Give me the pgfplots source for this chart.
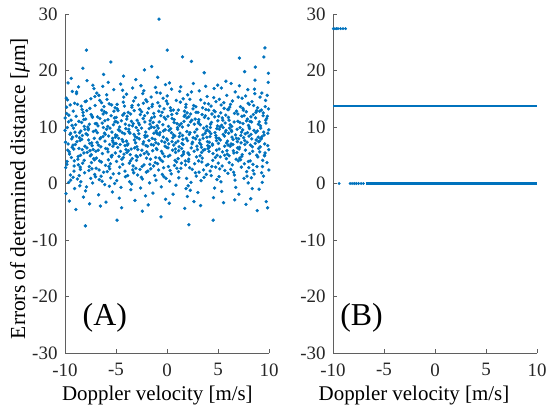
\documentclass[border=0pt]{standalone}
\usepackage{fontspec}
\setmainfont{Liberation Serif}
\usepackage{pgfplots}
\pgfplotsset{compat=1.18}

\definecolor{mlblue}{RGB}{0,114,189}
\definecolor{axgray}{RGB}{95,95,95}

\pgfplotsset{
  panel/.style={
    width=204bp, height=339bp, scale only axis,
    xmin=-10, xmax=10, ymin=-30, ymax=30,
    axis x line*=bottom, axis y line*=left,
    axis line style={-, axgray, line width=0.6bp},
    tick style={axgray, line width=0.6bp},
    tick align=inside, major tick length=4bp,
    xtick={-10,-5,...,10}, ytick={-30,-20,...,30},
    /pgf/number format/assume math mode=true,
    ticklabel style={font=\fontsize{19}{20}\selectfont, text=black!85},
    xticklabel style={yshift=-7bp},
    yticklabel style={xshift=-4bp},
    xlabel={Doppler velocity [m/s]},
    clip=false,
  },
  dots/.style={mlblue, only marks, mark=*, mark size=1.5bp,
    mark options={draw=none, fill=mlblue}},
}

\begin{document}
\begin{tikzpicture}

% (A) scattered errors
\begin{axis}[panel, at={(65bp,59bp)}, anchor=south west,
  xlabel style={font=\fontsize{21}{21}\selectfont, anchor=base,
    at={(axis description cs:0.453,-0.139)}},
  ylabel={Errors of determined distance [\textit{μ}m]},
  ylabel style={font=\fontsize{21.5}{21.5}\selectfont, anchor=base,
    at={(axis description cs:-0.196,0.485)}},
]
\addplot[dots] coordinates {
(-9.95,7.3)(-9.62,12.1)(-9.81,3.4)(-9.17,9.8)(-9.44,0.6)(-9.05,14.2)(-9.73,5.9)(-9.28,16.3)(-9.90,-1.8)(-9.51,8.7)(-9.12,2.2)(-9.66,10.9)(-9.37,4.6)(-9.98,11.6)(-9.22,6.8)(-9.58,-3.1)(-9.85,13.5)(-9.02,9.1)(-9.47,1.5)(-9.70,17.8)(-9.33,7.9)(-9.09,4.0)(-9.77,9.9)(-9.19,12.8)(-9.55,5.2)(-9.93,2.8)(-9.41,11.2)(-9.64,0.2)(-9.26,8.2)(-9.88,15.1)(-9.14,6.1)(-9.49,13.9)(-9.80,3.9)(-9.31,10.3)(-9.06,-0.9)(-9.69,7.0)(-9.99,9.4)(-9.39,18.6)(-9.58,5.6)(-9.21,1.1)(-9.84,12.4)(-9.45,8.9)(-9.11,3.1)(-9.75,14.8)(-9.30,6.4)
(-8.96,10.4)(-8.71,4.8)(-8.33,13.1)(-8.52,7.6)(-8.08,1.9)(-8.87,15.9)(-8.44,9.3)(-8.19,-2.4)(-8.63,6.2)(-8.91,11.9)(-8.27,3.6)(-8.58,8.1)(-8.02,14.5)(-8.79,0.8)(-8.38,10.8)(-8.14,5.4)(-8.67,17.1)(-8.49,2.5)(-8.83,7.4)(-8.23,12.6)(-8.55,-0.4)(-8.05,9.6)(-8.74,4.3)(-8.41,13.7)(-8.99,6.9)(-8.16,11.3)(-8.61,1.4)(-8.30,8.5)(-8.86,16.2)(-8.47,5.0)(-8.11,10.1)(-8.69,3.3)(-8.36,7.8)(-8.93,-4.6)(-8.21,12.0)(-8.57,9.0)(-8.04,6.6)(-8.77,14.0)(-8.45,0.3)(-8.25,20.4)(-8.64,11.0)(-8.12,4.1)(-8.89,8.4)(-8.51,2.9)(-8.31,6.0)
(-7.94,8.8)(-7.62,3.0)(-7.31,11.7)(-7.85,6.3)(-7.07,15.4)(-7.48,0.9)(-7.71,9.7)(-7.19,4.4)(-7.56,13.3)(-7.99,-1.3)(-7.38,7.2)(-7.03,10.6)(-7.66,2.3)(-7.27,17.4)(-7.82,5.5)(-7.44,12.2)(-7.13,8.0)(-7.59,-3.6)(-7.91,14.6)(-7.34,6.7)(-7.09,1.6)(-7.75,10.0)(-7.52,4.9)(-7.22,9.2)(-7.87,12.9)(-7.41,3.7)(-7.16,16.8)(-7.69,7.7)(-7.29,0.1)(-7.97,11.4)(-7.55,5.8)(-7.05,13.8)(-7.79,8.6)(-7.36,2.6)(-7.61,10.5)(-7.24,6.0)(-7.89,-0.6)(-7.46,15.0)(-7.11,4.2)(-7.73,9.5)(-7.33,11.9)(-7.57,7.1)(-7.01,1.2)(-7.84,18.2)(-7.42,5.1)
(-6.97,5.7)(-6.58,11.5)(-6.21,2.0)(-6.83,9.0)(-6.42,14.3)(-6.07,7.5)(-6.71,-2.0)(-6.35,10.7)(-6.92,4.5)(-6.15,12.7)(-6.64,0.7)(-6.28,8.3)(-6.88,16.0)(-6.49,6.5)(-6.03,3.2)(-6.77,10.2)(-6.39,13.0)(-6.11,-0.2)(-6.56,7.9)(-6.95,2.7)(-6.24,9.9)(-6.68,15.6)(-6.33,5.3)(-6.81,11.8)(-6.05,8.7)(-6.46,1.3)(-6.73,6.8)(-6.18,13.6)(-6.61,4.0)(-6.99,9.4)(-6.30,17.2)(-6.53,-4.0)(-6.09,11.1)(-6.86,7.3)(-6.44,3.8)(-6.26,12.3)(-6.75,5.9)(-6.13,8.9)(-6.59,14.7)(-6.37,0.4)(-6.90,10.6)(-6.02,6.2)(-6.66,2.4)(-6.22,19.3)(-6.50,8.1)
(-5.96,12.5)(-5.63,6.9)(-5.27,1.7)(-5.81,10.1)(-5.44,4.7)(-5.09,13.4)(-5.72,8.4)(-5.36,-1.5)(-5.91,15.7)(-5.18,7.0)(-5.55,3.5)(-5.02,11.0)(-5.78,5.6)(-5.40,9.1)(-5.13,0.0)(-5.67,14.1)(-5.31,6.6)(-5.86,2.1)(-5.48,12.0)(-5.06,8.2)(-5.74,4.2)(-5.22,16.6)(-5.59,9.8)(-5.98,-3.3)(-5.34,7.6)(-5.15,11.6)(-5.69,3.0)(-5.42,13.9)(-5.83,6.1)(-5.25,10.4)(-5.51,1.0)(-5.04,8.6)(-5.76,17.9)(-5.38,5.0)(-5.93,9.6)(-5.20,12.8)(-5.61,2.6)(-5.29,7.3)(-5.88,14.9)(-5.46,4.9)(-5.11,10.9)(-5.65,-0.5)(-5.33,8.0)(-5.79,11.3)(-5.07,5.4)
(-4.95,3.9)(-4.61,9.3)(-4.28,14.4)(-4.83,6.4)(-4.47,11.1)(-4.12,2.2)(-4.74,8.0)(-4.36,16.5)(-4.93,0.5)(-4.19,12.4)(-4.56,5.7)(-4.04,9.7)(-4.68,-2.6)(-4.31,7.4)(-4.87,13.2)(-4.43,4.3)(-4.09,10.5)(-4.71,1.8)(-4.24,15.3)(-4.59,6.9)(-4.97,11.7)(-4.34,3.4)(-4.15,8.8)(-4.80,12.9)(-4.51,-0.7)(-4.02,6.0)(-4.65,10.0)(-4.27,4.6)(-4.89,14.0)(-4.40,7.8)(-4.07,1.2)(-4.76,9.5)(-4.54,17.6)(-4.21,5.2)(-4.91,8.5)(-4.33,12.1)(-4.63,2.9)(-4.11,6.7)(-4.85,10.8)(-4.45,-4.3)(-4.17,13.7)(-4.70,4.8)(-4.38,9.0)(-4.99,7.1)(-4.26,19.0)
(-3.94,11.4)(-3.60,5.1)(-3.23,8.7)(-3.86,1.4)(-3.45,13.5)(-3.08,7.2)(-3.71,10.3)(-3.33,3.1)(-3.97,15.8)(-3.17,6.3)(-3.54,-1.1)(-3.02,9.9)(-3.80,12.6)(-3.40,4.4)(-3.12,8.3)(-3.66,0.3)(-3.28,14.6)(-3.89,6.8)(-3.49,11.0)(-3.05,2.7)(-3.75,9.2)(-3.37,16.9)(-3.93,5.5)(-3.20,7.7)(-3.57,12.3)(-3.14,-3.0)(-3.69,3.6)(-3.31,10.6)(-3.83,7.0)(-3.43,13.8)(-3.03,4.9)(-3.63,8.9)(-3.26,1.9)(-3.91,11.9)(-3.52,6.1)(-3.10,15.2)(-3.73,9.6)(-3.35,2.4)(-3.98,7.5)(-3.47,-0.1)(-3.22,12.9)(-3.78,5.8)(-3.39,10.2)(-3.06,18.4)(-3.58,4.0)
(-2.96,6.5)(-2.62,12.2)(-2.25,3.3)(-2.84,9.4)(-2.41,0.8)(-2.07,14.8)(-2.73,7.9)(-2.33,11.5)(-2.91,4.7)(-2.16,8.5)(-2.55,17.3)(-2.03,2.0)(-2.78,10.7)(-2.46,5.9)(-2.11,-2.2)(-2.67,13.1)(-2.29,7.4)(-2.88,1.5)(-2.50,9.8)(-2.19,12.0)(-2.99,4.1)(-2.38,15.9)(-2.05,6.7)(-2.70,10.4)(-2.44,3.0)(-2.14,8.2)(-2.81,13.9)(-2.58,-0.8)(-2.23,5.3)(-2.93,11.2)(-2.35,7.0)(-2.09,9.1)(-2.65,2.5)(-2.27,16.4)(-2.86,6.0)(-2.48,12.7)(-2.01,4.5)(-2.76,8.8)(-2.42,-4.9)(-2.17,10.9)(-2.60,5.0)(-2.31,14.2)(-2.94,8.1)(-2.52,1.1)(-2.21,20.1)
(-1.95,8.4)(-1.59,2.6)(-1.24,11.8)(-1.82,5.2)(-1.43,14.0)(-1.06,9.3)(-1.71,0.1)(-1.33,6.8)(-1.92,12.5)(-1.15,3.7)(-1.52,10.0)(-1.01,16.1)(-1.77,7.6)(-1.38,-1.7)(-1.11,4.6)(-1.65,11.1)(-1.28,8.9)(-1.87,2.2)(-1.47,13.6)(-1.04,6.2)(-1.74,9.7)(-1.21,1.4)(-1.56,15.3)(-1.98,5.6)(-1.35,10.8)(-1.09,7.2)(-1.68,3.4)(-1.30,12.4)(-1.84,-3.8)(-1.45,8.0)(-1.13,17.0)(-1.62,4.3)(-1.26,9.9)(-1.90,6.6)(-1.50,11.6)(-1.08,0.6)(-1.79,13.3)(-1.40,5.8)(-1.18,7.8)(-1.67,10.5)(-1.32,3.1)(-1.96,14.5)(-1.54,6.9)(-1.03,9.0)(-1.50,20.7)
(-0.97,10.2)(-0.63,4.2)(-0.29,13.2)(-0.85,7.0)(-0.46,1.6)(-0.12,11.4)(-0.74,8.6)(-0.38,15.1)(-0.93,3.5)(-0.18,9.5)(-0.56,-0.6)(-0.05,6.4)(-0.80,12.8)(-0.42,5.3)(-0.15,17.5)(-0.68,9.0)(-0.33,2.8)(-0.89,14.3)(-0.51,7.5)(-0.09,0.9)(-0.77,10.9)(-0.24,4.8)(-0.60,12.0)(-0.99,6.0)(-0.36,8.2)(-0.14,-2.8)(-0.71,13.7)(-0.44,3.9)(-0.86,9.8)(-0.26,11.7)(-0.54,5.7)(-0.03,7.9)(-0.66,16.0)(-0.31,1.2)(-0.95,8.8)(-0.48,12.6)(-0.19,6.6)(-0.82,2.4)(-0.40,10.4)(-0.07,14.6)(-0.59,-5.9)(-0.22,7.3)(-0.75,4.5)(-0.35,9.3)(-0.91,18.8)
(0.04,7.7)(0.38,12.9)(0.73,3.2)(0.15,10.1)(0.55,5.9)(0.91,14.7)(0.26,0.4)(0.64,8.6)(0.08,11.9)(0.82,6.1)(0.45,16.7)(0.97,2.7)(0.20,9.4)(0.59,-1.9)(0.33,13.4)(0.86,7.2)(0.12,4.8)(0.69,10.8)(0.41,1.7)(0.02,15.5)(0.77,8.4)(0.29,5.0)(0.51,11.5)(0.94,3.8)(0.17,7.0)(0.62,13.0)(0.36,9.7)(0.88,-0.3)(0.10,6.3)(0.47,12.2)(0.79,4.1)(0.24,17.8)(0.57,8.1)(0.99,10.6)(0.31,2.3)(0.66,6.8)(0.06,14.1)(0.43,9.0)(0.84,5.5)(0.22,-3.5)(0.71,11.3)(0.49,7.4)(0.14,3.0)(0.96,12.4)(0.02,23.6)
(1.05,9.6)(1.41,3.6)(1.77,12.1)(1.18,6.5)(1.59,15.0)(1.92,0.9)(1.27,8.9)(1.66,11.0)(1.09,4.4)(1.84,13.5)(1.48,7.1)(1.99,-2.3)(1.22,10.3)(1.61,5.2)(1.35,17.1)(1.89,8.0)(1.13,2.1)(1.71,12.8)(1.44,6.2)(1.03,9.9)(1.80,4.0)(1.31,14.4)(1.55,7.8)(1.96,11.6)(1.16,1.0)(1.63,5.6)(1.39,10.6)(1.87,-0.9)(1.11,13.0)(1.52,8.5)(1.82,3.3)(1.25,16.3)(1.58,6.9)(1.94,9.2)(1.36,2.7)(1.69,11.9)(1.07,7.5)(1.46,4.9)(1.86,14.0)(1.21,8.3)(1.74,-4.4)(1.50,10.0)(1.15,5.8)(1.97,12.5)(1.52,22.4)
(2.06,5.4)(2.43,11.2)(2.78,1.9)(2.19,8.7)(2.61,13.8)(2.94,6.6)(2.28,-1.2)(2.68,10.5)(2.11,3.9)(2.85,12.6)(2.50,7.3)(2.03,15.7)(2.73,9.1)(2.35,0.2)(2.14,11.8)(2.89,4.7)(2.57,8.1)(2.24,14.9)(2.98,6.0)(2.47,2.5)(2.09,10.3)(2.81,7.9)(2.32,12.3)(2.64,-3.2)(2.17,5.1)(2.92,9.6)(2.40,16.2)(2.71,3.5)(2.01,7.6)(2.55,13.2)(2.26,9.0)(2.87,1.3)(2.37,6.3)(2.76,11.4)(2.13,4.3)(2.59,17.7)(2.96,8.4)(2.30,10.9)(2.66,5.7)(2.08,-0.4)(2.83,13.6)(2.45,7.0)(2.22,2.8)(2.40,21.6)(2.15,-7.3)
(3.07,10.7)(3.46,4.5)(3.81,13.1)(3.22,7.7)(3.63,1.1)(3.95,9.5)(3.31,14.8)(3.71,6.0)(3.12,11.3)(3.87,3.2)(3.52,8.6)(3.03,-1.6)(3.76,12.0)(3.39,5.5)(3.16,16.4)(3.91,8.2)(3.58,2.4)(3.26,10.4)(3.99,6.7)(3.49,13.4)(3.10,4.0)(3.83,9.3)(3.34,0.5)(3.67,11.7)(3.19,7.2)(3.94,15.4)(3.42,3.8)(3.74,8.9)(3.04,12.6)(3.56,5.9)(3.29,-3.9)(3.89,10.1)(3.37,6.4)(3.69,14.2)(3.14,2.0)(3.61,9.8)(3.97,7.4)(3.44,12.2)(3.24,4.9)(3.79,17.2)(3.54,8.0)(3.09,10.9)(3.85,1.6)(3.33,6.9)(3.65,19.6)
(4.04,6.2)(4.41,12.3)(4.77,2.9)(4.16,9.2)(4.58,15.2)(4.92,5.0)(4.27,10.5)(4.66,-0.8)(4.09,13.0)(4.85,7.6)(4.49,4.1)(4.98,11.1)(4.21,8.3)(4.62,16.8)(4.34,1.4)(4.88,9.7)(4.12,5.7)(4.72,12.7)(4.45,7.0)(4.02,3.4)(4.80,14.5)(4.30,8.8)(4.55,-2.5)(4.95,10.2)(4.18,6.5)(4.68,11.8)(4.39,3.0)(4.83,8.1)(4.07,14.1)(4.51,5.3)(4.25,9.9)(4.90,0.7)(4.60,12.9)(4.14,7.3)(4.75,4.6)(4.36,10.8)(4.97,17.4)(4.47,6.8)(4.23,2.2)(4.70,9.0)(4.05,11.5)(4.86,5.9)(4.32,13.7)(4.53,-6.5)(4.79,8.5)
(5.06,11.9)(5.44,5.6)(5.79,9.4)(5.17,2.6)(5.60,13.3)(5.93,7.5)(5.29,0.3)(5.70,10.7)(5.11,6.1)(5.86,15.6)(5.51,8.7)(5.02,3.6)(5.76,12.1)(5.37,-1.4)(5.14,9.6)(5.90,5.2)(5.57,14.3)(5.24,7.7)(5.97,1.8)(5.47,11.2)(5.08,8.0)(5.82,4.4)(5.33,16.9)(5.66,6.6)(5.19,10.0)(5.95,13.1)(5.40,3.1)(5.73,9.1)(5.04,7.1)(5.54,-3.4)(5.27,12.5)(5.88,5.8)(5.35,10.3)(5.68,2.3)(5.13,14.9)(5.63,8.4)(5.99,6.8)(5.42,11.6)(5.22,4.7)(5.78,18.1)(5.50,9.9)(5.10,1.2)(5.84,7.2)(5.31,13.9)(5.65,5.0)
(6.05,8.9)(6.42,14.6)(6.78,4.3)(6.19,10.4)(6.60,1.5)(6.94,12.3)(6.28,7.0)(6.69,16.2)(6.10,3.7)(6.87,9.6)(6.51,5.8)(6.02,11.7)(6.74,-0.7)(6.37,8.2)(6.15,13.5)(6.91,6.3)(6.58,10.9)(6.25,2.5)(6.98,15.3)(6.48,7.8)(6.09,4.9)(6.82,12.8)(6.33,9.2)(6.64,-2.9)(6.20,6.6)(6.95,11.0)(6.40,3.3)(6.72,8.6)(6.03,13.1)(6.55,5.4)(6.29,17.7)(6.89,7.4)(6.35,10.1)(6.67,0.6)(6.13,9.8)(6.62,12.4)(6.99,4.0)(6.45,6.9)(6.23,14.0)(6.80,8.0)(6.53,2.0)(6.08,11.2)(6.85,5.5)(6.31,9.4)(7.10,22.2)
(7.07,6.1)(7.45,10.6)(7.81,2.1)(7.20,13.6)(7.62,7.6)(7.96,0.1)(7.31,9.1)(7.71,15.5)(7.13,4.5)(7.88,11.4)(7.52,8.1)(7.04,-1.9)(7.77,12.7)(7.38,5.1)(7.16,9.9)(7.92,16.6)(7.59,3.5)(7.26,7.2)(7.99,10.3)(7.48,13.0)(7.10,6.4)(7.84,1.3)(7.35,11.9)(7.67,8.8)(7.22,4.2)(7.95,14.2)(7.42,9.5)(7.74,-3.7)(7.03,7.9)(7.56,12.0)(7.29,2.9)(7.89,9.0)(7.36,15.1)(7.69,5.9)(7.14,10.8)(7.64,6.9)(7.98,3.9)(7.44,13.3)(7.24,8.5)(7.80,11.1)(7.55,0.9)(7.09,17.3)(7.86,7.3)(7.33,4.8)(7.61,19.8)
(8.05,10.0)(8.43,3.4)(8.79,12.9)(8.18,6.8)(8.61,15.9)(8.94,8.2)(8.27,1.0)(8.68,11.6)(8.11,5.3)(8.86,9.3)(8.49,13.8)(8.02,2.8)(8.75,7.7)(8.36,-0.9)(8.14,11.0)(8.90,4.7)(8.57,16.7)(8.24,8.7)(8.98,6.2)(8.47,12.2)(8.09,9.7)(8.82,3.0)(8.33,14.5)(8.65,7.1)(8.21,-2.7)(8.96,10.5)(8.40,5.7)(8.72,12.6)(8.04,8.4)(8.54,1.7)(8.29,10.9)(8.88,13.4)(8.37,6.5)(8.70,9.0)(8.15,4.0)(8.63,18.3)(8.99,7.4)(8.45,2.3)(8.23,11.8)(8.80,5.0)(8.52,9.4)(8.07,14.0)(8.84,-4.8)(8.31,7.9)(8.66,20.6)
(9.06,7.5)(9.44,12.5)(9.80,3.7)(9.19,9.8)(9.61,5.4)(9.95,13.2)(9.28,1.9)(9.70,10.7)(9.12,15.3)(9.88,6.7)(9.52,8.6)(9.03,-1.0)(9.77,11.5)(9.38,4.1)(9.16,10.2)(9.92,17.9)(9.58,7.0)(9.25,13.0)(9.99,2.4)(9.48,9.1)(9.10,5.6)(9.84,11.9)(9.34,0.2)(9.66,14.7)(9.21,8.0)(9.97,6.0)(9.42,12.0)(9.73,-3.2)(9.04,10.9)(9.55,4.9)(9.30,16.0)(9.89,8.9)(9.36,3.0)(9.68,11.2)(9.14,6.5)(9.63,13.6)(9.98,9.5)(9.46,1.3)(9.23,7.9)(9.82,15.6)(9.57,5.0)(9.08,12.8)(9.86,-4.3)(9.32,8.3)(9.60,24.0)(9.50,22.4)(9.94,19.5)
(-0.78,29.1)(-7.9,23.6)(-5.5,21.5)(-8.0,-7.5)(-4.9,-6.5)
};
\node[font=\fontsize{32}{32}\selectfont] at (axis cs:-6.1,-23.8) {(A)};
\end{axis}

% (B) quantised errors
\begin{axis}[panel, at={(333bp,59bp)}, anchor=south west,
  xlabel style={font=\fontsize{21}{21}\selectfont, anchor=base,
    at={(axis description cs:0.397,-0.139)}},
]
\addplot[mlblue, line width=2.4bp] coordinates {(-10,13.7) (10,13.7)};
\addplot[mlblue, line width=2.4bp] coordinates {(-6.8,0) (10,0)};
\addplot[dots, mark size=1.25bp] coordinates {
(-9.4,0)(-8.33,0)(-8.12,0)(-7.92,0)(-7.72,0)(-7.5,0)(-7.25,0)(-7.02,0)
(-9.97,27.4)(-9.82,27.4)(-9.66,27.4)(-9.51,27.4)(-9.26,27.4)(-9.02,27.4)(-8.77,27.4)
};
\node[font=\fontsize{32}{32}\selectfont] at (axis cs:-7.2,-23.8) {(B)};
\end{axis}

\pgfresetboundingbox
\useasboundingbox (0,0) rectangle (549bp,412bp);
\end{tikzpicture}
\end{document}
